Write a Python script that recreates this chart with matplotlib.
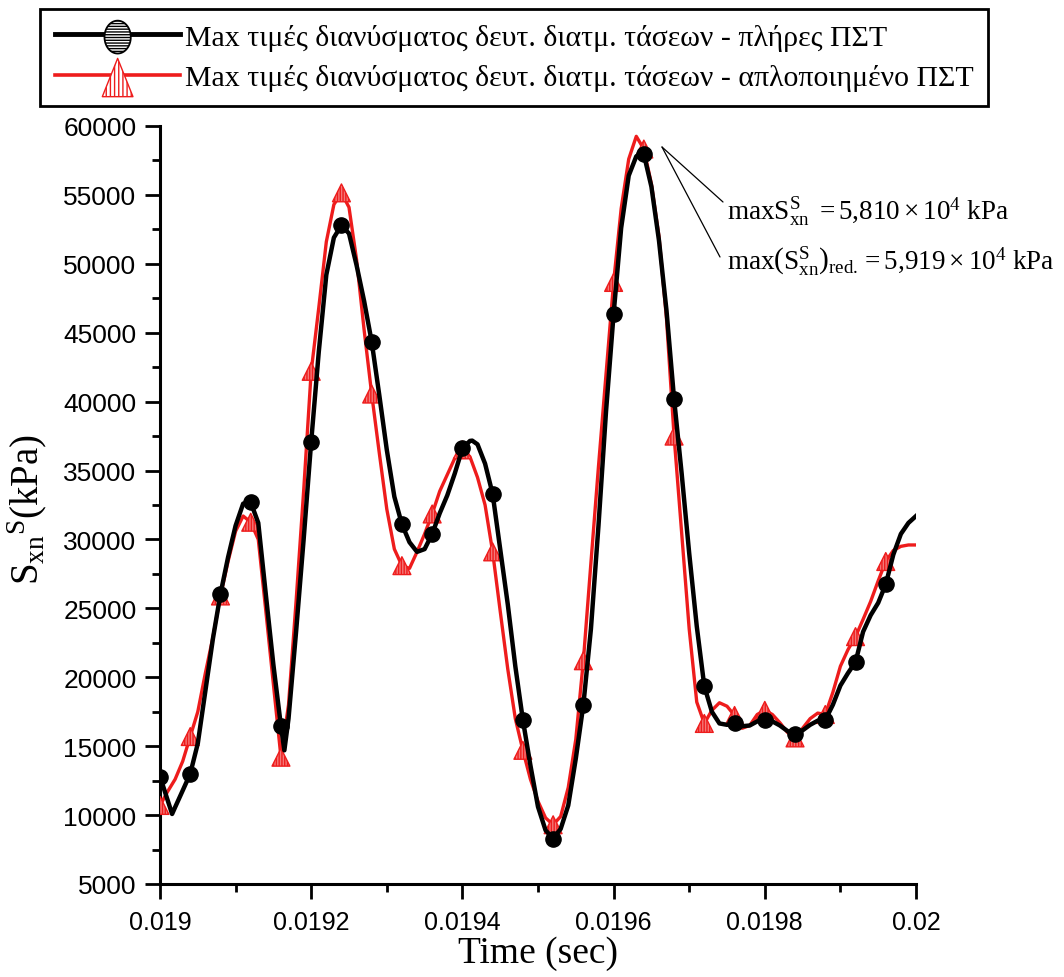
import numpy as np
import matplotlib
matplotlib.use("Agg")
import matplotlib.pyplot as plt
from matplotlib.lines import Line2D
from matplotlib.legend_handler import HandlerTuple
from matplotlib.path import Path

plt.rcParams['mathtext.fontset'] = 'custom'
plt.rcParams['mathtext.rm'] = 'Liberation Serif'
plt.rcParams['mathtext.it'] = 'Liberation Serif:italic'
plt.rcParams['mathtext.bf'] = 'Liberation Serif:bold'
plt.rcParams['hatch.linewidth'] = 1.0

# ---- data, time step 1e-5 s starting at 0.019 s ----
t0 = 0.019
dt = 1e-5
black_vals = [
    12800, 11100, 10570, 11780, 13000,
    15200, 19000, 22800, 26050,
    28700, 31000, 32600, 32700,
    31200, 26000, 20900, 16450,
    17000, 23300, 30000, 37100,
    43600, 49200, 51900, 52800,
    52200, 49900, 47300, 44350,
    40500, 36500, 33100, 31100,
    29800, 29100, 29300, 30400,
    31900, 33200, 34800, 36600,
    37150, 36900, 35500, 33300,
    29300, 25300, 20800, 16900,
    13600, 10600, 8900, 8300,
    9000, 10700, 14100, 18000,
    23500, 31000, 39300, 46350,
    52600, 56400, 57800, 57950,
    55600, 51700, 46600, 40200,
    34800, 29000, 23700, 19350,
    17500, 16650, 16550, 16650,
    16450, 16500, 16800, 16900,
    16800, 16500, 16100, 15850,
    16150, 16550, 16850, 16900,
    18000, 19400, 20300, 21100,
    23300, 24500, 25400, 26750,
    28900, 30400, 31200, 31700]
# extra points at sharp extrema of the black curve (index, value)
black_extra_idx = [1.6, 16.45, 41.3, 63.8]
black_extra_val = [10080, 14700, 37170, 58100]

red_vals = [
    10700, 11700, 12600, 13900, 15700,
    17500, 20300, 22900, 25900,
    28400, 30600, 31700, 31250,
    30000, 24800, 19500, 14200,
    18000, 25500, 33500, 42200,
    46800, 51600, 54300, 55150,
    54100, 50300, 45200, 40550,
    36300, 32200, 29300, 28100,
    27900, 29100, 30400, 31850,
    33500, 34700, 35900, 36500,
    36000, 34500, 32500, 29100,
    24800, 20600, 17000, 14700,
    12600, 11000, 9800, 9300,
    9900, 12000, 15500, 21200,
    28300, 35300, 42000, 48650,
    54000, 57600, 59250, 58330,
    55800, 52000, 46000, 37500,
    30500, 23500, 18200, 16650,
    17600, 18150, 17900, 17230,
    16300, 16500, 17300, 17600,
    17300, 16700, 16000, 15600,
    16300, 17000, 17400, 17300,
    18900, 20800, 22000, 22950,
    24200, 25500, 27000, 28400,
    29200, 29500, 29600, 29600]

marker_step = 4
legend_labels = ["Max τιμές διανύσματος δευτ. διατμ. τάσεων - πλήρες ΠΣΤ",
                 "Max τιμές διανύσματος δευτ. διατμ. τάσεων - απλοποιημένο ΠΣΤ"]
xticks = [0.019, 0.0192, 0.0194, 0.0196, 0.0198, 0.02]
yticks = list(range(5000, 60001, 5000))
ann1 = r'$\mathrm{maxS}^{\mathrm{S}}_{\mathrm{xn}}\ = 5{,}810\times10^{4}\ \mathrm{kPa}$'
ann2 = r'$\mathrm{max}\left(\mathrm{S}^{\mathrm{S}}_{\mathrm{xn}}\right)_{\mathrm{red.}} = 5{,}919\times10^{4}\ \mathrm{kPa}$'

# ---- build arrays ----
idx = np.arange(len(black_vals), dtype=float)
bi = np.concatenate([idx, black_extra_idx])
bv = np.concatenate([np.array(black_vals, float), black_extra_val])
order = np.argsort(bi)
tb = t0 + bi[order] * dt
vb = bv[order]
tr = t0 + np.arange(len(red_vals)) * dt
vr = np.array(red_vals, float)
mk = np.arange(0, len(black_vals) - 1, marker_step)
tm = t0 + mk * dt
vbm = np.array(black_vals)[mk]
vrm = vr[mk]

RED = '#ee1c1c'
fig = plt.figure(figsize=(10.64, 9.78), dpi=100)
ax = fig.add_axes([160/1064, 93/978, 756/1064, 758/978])

ax.plot(tr, vr, color=RED, lw=2.4, zorder=2, solid_joinstyle='round')
ax.scatter(tm, vrm, s=165, marker='^', facecolor='#f47878', edgecolor=RED,
           hatch='||||||', linewidths=1.0, zorder=3)
ax.plot(tb, vb, color='black', lw=3.2, zorder=4, solid_joinstyle='round')
ax.scatter(tm, vbm, s=120, marker='o', facecolor='black', edgecolor='black', zorder=5)

ax.set_xlim(0.019, 0.02)
ax.set_ylim(5000, 60000)
ax.set_xticks(xticks)
ax.set_xticklabels(['%g' % v for v in xticks])
ax.set_xticks(np.arange(0.0191, 0.02, 0.0002), minor=True)
ax.set_yticks(yticks)
ax.set_yticks(np.arange(7500, 60000, 5000), minor=True)
for s in ['top', 'right']:
    ax.spines[s].set_visible(False)
for s in ['left', 'bottom']:
    ax.spines[s].set_linewidth(2.2)
ax.tick_params(axis='both', which='major', direction='out', length=11, width=2.0)
ax.tick_params(axis='both', which='minor', direction='out', length=6, width=2.0)
ax.tick_params(axis='x', which='major', labelsize=18, pad=8)
ax.tick_params(axis='y', which='major', labelsize=19, pad=6)
for lab in ax.get_xticklabels() + ax.get_yticklabels():
    lab.set_fontfamily('Liberation Sans')

ax.set_xlabel('Time (sec)', fontfamily='Liberation Serif', fontsize=27)
ax.xaxis.set_label_coords(0.5, -0.068)
ax.set_ylabel(r'$\mathrm{S}_{\mathrm{xn}}{}^{\mathrm{S}}\mathrm{(kPa)}$', fontsize=28)
ax.yaxis.set_label_coords(-0.147, 0.495)

# annotation lines and texts
px2t = lambda x: 0.019 + (x - 160) / 756 * 0.001
py2v = lambda y: 5000 + (885 - y) / 758 * 55000
p0 = (px2t(662), py2v(148))
ax.annotate('', xy=p0, xytext=(px2t(723), py2v(203)), annotation_clip=False,
            arrowprops=dict(arrowstyle='-', lw=0.9, color='black', shrinkA=0, shrinkB=0))
ax.annotate('', xy=p0, xytext=(px2t(720), py2v(258)), annotation_clip=False,
            arrowprops=dict(arrowstyle='-', lw=0.9, color='black', shrinkA=0, shrinkB=0))
fig.text(727/1064, 1 - 212/978, ann1, fontsize=19.5, va='center', ha='left')
fig.text(727/1064, 1 - 262/978, ann2, fontsize=19.5, va='center', ha='left')

# legend
theta = np.linspace(0, 2 * np.pi, 60)
ell = Path(np.column_stack([0.8 * np.cos(theta), np.sin(theta)]))
tri = Path([(-0.8, -1.0), (0.8, -1.0), (0.0, 1.0), (-0.8, -1.0)],
           [Path.MOVETO, Path.LINETO, Path.LINETO, Path.CLOSEPOLY])
l1 = Line2D([], [], color='black', lw=3.5)
s1 = ax.scatter([], [], s=560, marker=ell, facecolor='white', edgecolor='black',
                hatch='------', linewidths=1.3)
l2 = Line2D([], [], color=RED, lw=2.6)
s2 = ax.scatter([], [], s=760, marker=tri, facecolor='white', edgecolor=RED,
                hatch='||||', linewidths=1.0)
leg = fig.legend([(l1, s1), (l2, s2)], legend_labels,
                 handler_map={tuple: HandlerTuple(ndivide=1)},
                 loc='upper left', bbox_to_anchor=(40/1064, 1 - 10/978),
                 bbox_transform=fig.transFigure, fancybox=False, shadow=False,
                 frameon=True, edgecolor='black', framealpha=1, borderpad=0.5,
                 handlelength=4.2, handletextpad=0.15, labelspacing=0.45,
                 scatterpoints=1, prop={'family': 'Liberation Serif', 'size': 21.5},
                 borderaxespad=0)
leg.get_frame().set_linewidth(2.0)

fig.savefig('out.png', dpi=100)
